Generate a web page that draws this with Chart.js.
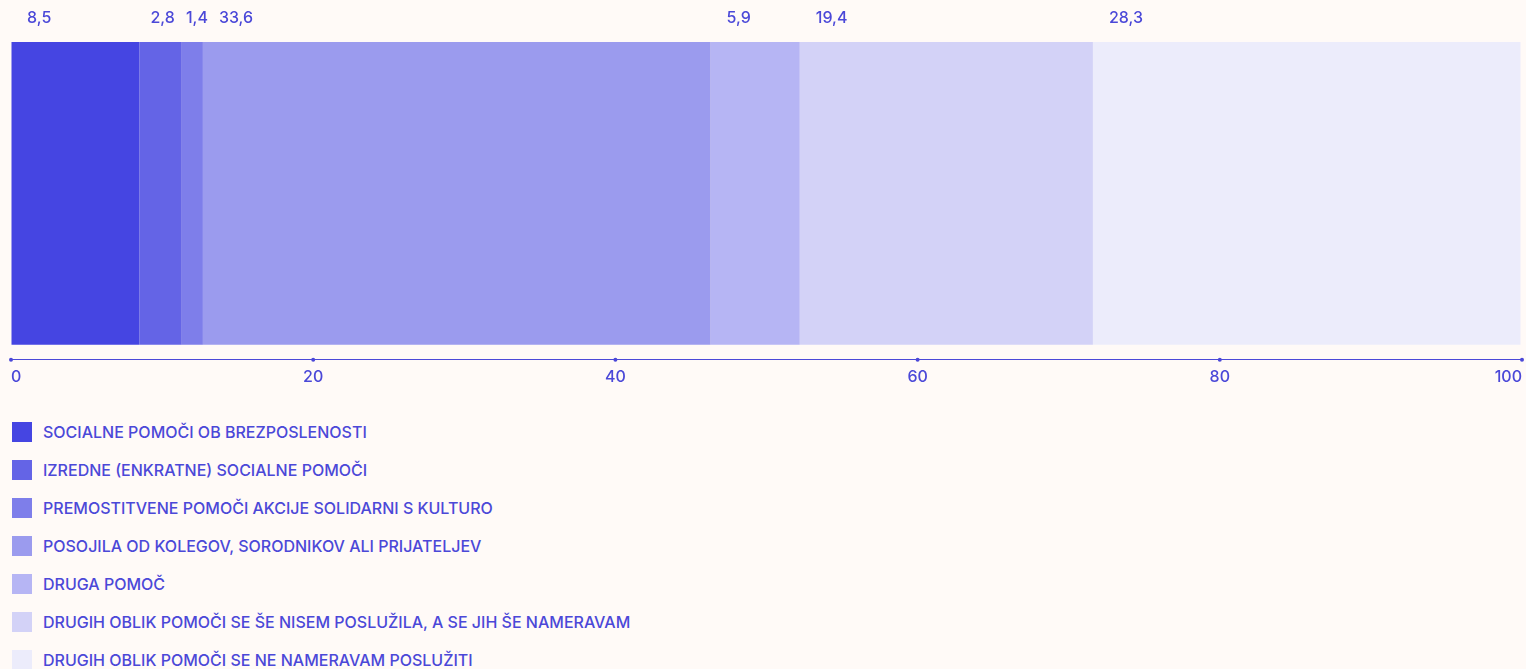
<!DOCTYPE html>
<html>
<head>
<meta charset="utf-8">
<script src="https://cdn.jsdelivr.net/npm/chart.js@4"></script>
<style>
    html, body { margin: 0; padding: 0; background: #fffaf7; overflow: hidden; }
    #wrap { position: relative; width: 1526px; height: 400px; }
    #legend { list-style: none; margin: 0; padding: 0; position: absolute; left: 0; top: 413px; }
    #legend li { height: 38px; display: flex; align-items: center; font-family: Inter, sans-serif; font-size: 16px; font-weight: 500; color: #4b48d8; }
    #legend span.box { display: inline-block; width: 20px; height: 20px; margin-left: 12px; margin-right: 11px; }
</style>
</head>
<body>
<div id="wrap"><canvas id="barChart" width="1526" height="400"></canvas></div>
<ul id="legend"></ul>
<script>
const categories = [
    'SOCIALNE POMOČI OB BREZPOSLENOSTI',
    'IZREDNE (ENKRATNE) SOCIALNE POMOČI',
    'PREMOSTITVENE POMOČI AKCIJE SOLIDARNI S KULTURO',
    'POSOJILA OD KOLEGOV, SORODNIKOV ALI PRIJATELJEV',
    'DRUGA POMOČ',
    'DRUGIH OBLIK POMOČI SE ŠE NISEM POSLUŽILA, A SE JIH ŠE NAMERAVAM',
    'DRUGIH OBLIK POMOČI SE NE NAMERAVAM POSLUŽITI'
];
const values = [8.5, 2.8, 1.4, 33.6, 5.9, 19.4, 28.3];
const colors = ['#4545e2', '#6464e6', '#7e7eea', '#9b9bee', '#b6b5f4', '#d3d2f7', '#ececfb'];
const xTicks = [0, 20, 40, 60, 80, 100];

const textColor = '#4b48d8';
const fontFamily = 'Inter, sans-serif';

// legend (html, one item per row)
const legendEl = document.getElementById('legend');
categories.forEach((name, i) => {
    const li = document.createElement('li');
    li.innerHTML = '<span class="box" style="background:' + colors[i] + '"></span>' + name;
    legendEl.appendChild(li);
});

// value labels above each segment + dots on the axis line
const extrasPlugin = {
    id: 'extras',
    afterDraw(chart) {
        const ctx = chart.ctx;
        const xScale = chart.scales.x;
        const area = chart.chartArea;
        ctx.save();
        ctx.fillStyle = textColor;
        xTicks.forEach(t => {
            ctx.beginPath();
            ctx.arc(xScale.getPixelForValue(t), area.bottom, 2, 0, Math.PI * 2);
            ctx.fill();
        });
        ctx.font = '500 16px ' + fontFamily;
        ctx.textAlign = 'left';
        ctx.textBaseline = 'middle';

        // place labels at segment start, then push left (from the right) so they don't overlap
        const gap = 11;
        let start = 0;
        const labels = values.map(v => {
            const text = v.toFixed(1).replace('.', ',');
            const item = { text, x: xScale.getPixelForValue(start) + 16, w: ctx.measureText(text).width };
            start += v;
            return item;
        });
        for (let i = labels.length - 2; i >= 0; i--) {
            const next = labels[i + 1];
            if (labels[i].x + labels[i].w + gap > next.x) {
                labels[i].x = next.x - gap - labels[i].w;
            }
        }
        labels.forEach(l => ctx.fillText(l.text, l.x, 18));
        ctx.restore();
    }
};

new Chart(document.getElementById('barChart'), {
    type: 'bar',
    data: {
        labels: [''],
        datasets: categories.map((name, i) => ({
            label: name,
            data: [values[i]],
            backgroundColor: colors[i],
            borderWidth: 0,
            barPercentage: 0.91,
            categoryPercentage: 1
        }))
    },
    options: {
        indexAxis: 'y',
        responsive: false,
        animation: false,
        events: [],
        layout: { autoPadding: false, padding: { top: 27, left: 11, right: 4, bottom: 13 } },
        plugins: { legend: { display: false }, tooltip: { enabled: false } },
        scales: {
            x: {
                stacked: true,
                min: 0,
                max: 100,
                afterBuildTicks: axis => { axis.ticks = xTicks.map(v => ({ value: v })); },
                grid: { display: true, drawOnChartArea: false, drawTicks: true, tickLength: 8, tickColor: 'rgba(0,0,0,0)' },
                border: { display: true, color: textColor, width: 1 },
                ticks: {
                    align: 'inner',
                    padding: 0,
                    color: textColor,
                    font: { family: fontFamily, size: 16, weight: 500 }
                }
            },
            y: {
                stacked: true,
                display: false
            }
        }
    },
    plugins: [extrasPlugin]
});
</script>
</body>
</html>
